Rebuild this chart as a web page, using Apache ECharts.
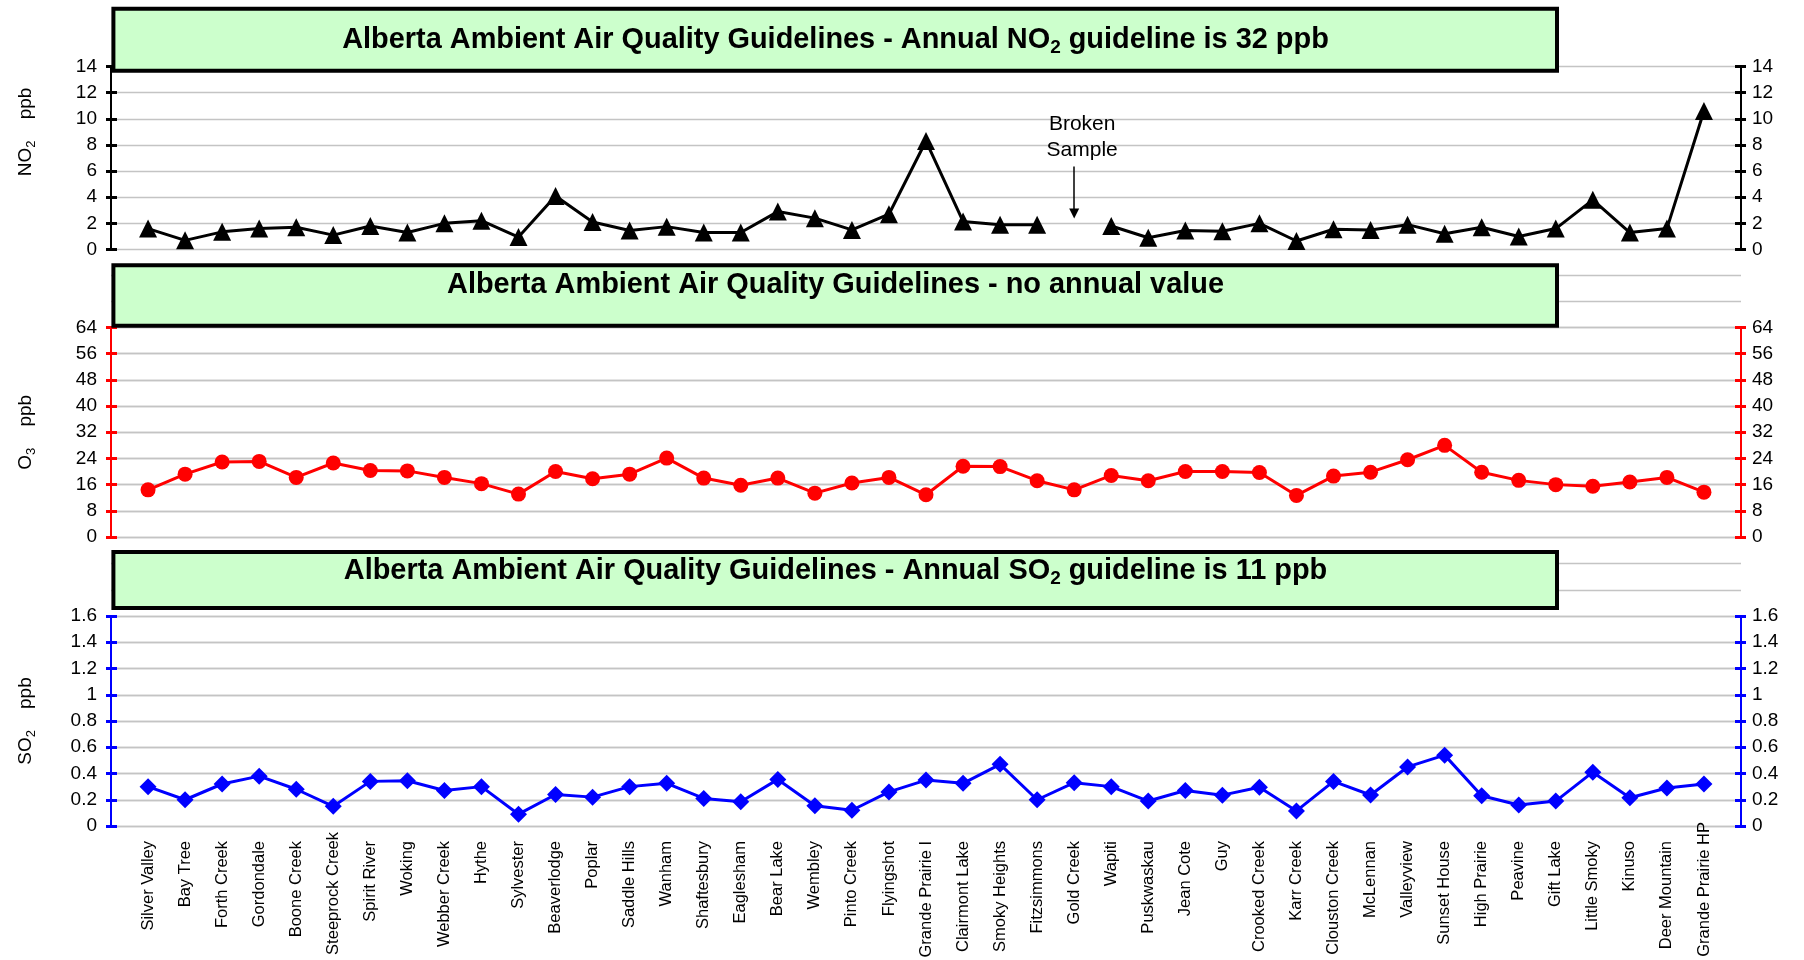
<!DOCTYPE html>
<html><head><meta charset="utf-8">
<script src="https://cdn.jsdelivr.net/npm/echarts@6/dist/echarts.min.js"></script>
<style>html,body{margin:0;padding:0;background:#fff}#c{width:1804px;height:960px}</style>
</head><body><div id="c"></div>
<script>
// ---------- DATA ----------
const categories = ['Silver Valley','Bay Tree','Forth Creek','Gordondale','Boone Creek','Steeprock Creek','Spirit River','Woking','Webber Creek','Hythe','Sylvester','Beaverlodge','Poplar','Saddle Hills','Wanham','Shaftesbury','Eaglesham','Bear Lake','Wembley','Pinto Creek','Flyingshot','Grande Prairie I','Clairmont Lake','Smoky Heights','Fitzsimmons','Gold Creek','Wapiti','Puskwaskau','Jean Cote','Guy','Crooked Creek','Karr Creek','Clouston Creek','McLennan','Valleyview','Sunset House','High Prairie','Peavine','Gift Lake','Little Smoky','Kinuso','Deer Mountain','Grande Prairie HP'];
const no2Values = [1.6,0.7,1.35,1.6,1.7,1.1,1.8,1.3,2.0,2.2,0.95,4.1,2.1,1.45,1.75,1.3,1.3,2.9,2.4,1.5,2.7,8.3,2.15,1.9,1.9,null,1.8,0.9,1.45,1.4,2.0,0.65,1.55,1.5,1.9,1.2,1.7,1.0,1.6,3.8,1.3,1.6,10.6];
const o3Values = [14.4,19.2,22.9,23.1,18.2,22.6,20.3,20.2,18.2,16.3,13.1,20.0,17.8,19.2,24.1,18.0,15.8,18.0,13.4,16.5,18.2,12.9,21.6,21.5,17.2,14.4,18.8,17.2,20.0,20.0,19.7,12.7,18.6,19.8,23.6,28.0,19.8,17.3,16.0,15.5,16.8,18.2,13.7];
const so2Values = [0.30,0.20,0.32,0.38,0.28,0.15,0.34,0.345,0.27,0.30,0.09,0.24,0.22,0.30,0.325,0.21,0.185,0.355,0.155,0.12,0.26,0.35,0.325,0.47,0.20,0.33,0.30,0.19,0.27,0.235,0.295,0.115,0.34,0.236,0.45,0.54,0.23,0.16,0.19,0.41,0.215,0.29,0.32];
const no2Ticks = [0,2,4,6,8,10,12,14];
const o3Ticks = [0,8,16,24,32,40,48,56,64];
const so2Ticks = [0,0.2,0.4,0.6,0.8,1,1.2,1.4,1.6];
const no2AxisExtentMax = 18;   // full axis span (name centred on it)
const o3GridExtentMax = 80;    // gridlines continue behind the title box
const so2GridExtentMax = 2.0;
const brokenSampleLabel = 'Broken\nSample';
const brokenSampleCategory = 'Gold Creek';
const brokenSampleArrow = [6.35, 2.75];
const titles = [
  '{b|Alberta Ambient Air Quality Guidelines - Annual NO}{s|2}{b| guideline is 32 ppb}',
  '{b|Alberta Ambient Air Quality Guidelines - no annual value}',
  '{b|Alberta Ambient Air Quality Guidelines - Annual SO}{s|2}{b| guideline is 11 ppb}'
];
const axisNames = ['{n|NO}{s|2}{n|    ppb}', '{n|O}{s|3}{n|    ppb}', '{n|SO}{s|2}{n|    ppb}'];

// ---------- STYLE / LAYOUT ----------
const FONT = '"Liberation Sans", Arial, Helvetica, sans-serif';
const GRID_LEFT = 111, GRID_RIGHT = 63;
const GRID_COLOR = '#c4c4c4';
const labelLift = {'Steeprock Creek': 9, 'Grande Prairie HP': 19};

const xData = [''].concat(categories, ['']);
const pad = arr => [null].concat(arr, [null]);
const xLabels = xData.map(n => labelLift[n] ? {value: n, textStyle: {padding: [0, -labelLift[n], 0, 0]}} : n);

const panels = [
  {ticks: no2Ticks, extMax: no2AxisExtentMax, extGrid: false, nameOnExt: true, top: 66.5, height: 183, color: '#000000', symbol: 'triangle', symbolSize: 18, data: no2Values, box: {y: 8.7, h: 62}, titleY: 40.5},
  {ticks: o3Ticks, extMax: o3GridExtentMax, extGrid: true, top: 327.5, height: 209.5, color: '#FF0000', symbol: 'circle', symbolSize: 15, data: o3Values, box: {y: 265.3, h: 60.4}, titleY: 285.2},
  {ticks: so2Ticks, extMax: so2GridExtentMax, extGrid: true, top: 616, height: 210, color: '#0000FF', symbol: 'diamond', symbolSize: 17, data: so2Values, showX: true, box: {y: 552, h: 56}, titleY: 571.2}
];

const grids = [], xAxes = [], yAxes = [], series = [], graphics = [];
const nameStyle = {
  color: '#000', fontFamily: FONT,
  rich: {
    n: {fontSize: 19, fontFamily: FONT, color: '#000', lineHeight: 24},
    s: {fontSize: 13, fontFamily: FONT, color: '#000', lineHeight: 12, verticalAlign: 'bottom'}
  }
};

panels.forEach((p, pi) => {
  const min = p.ticks[0], max = p.ticks[p.ticks.length - 1];
  const step = +(p.ticks[1] - p.ticks[0]).toFixed(6);
  const bottom = p.top + p.height;
  const gi = grids.length;
  grids.push({left: GRID_LEFT, right: GRID_RIGHT, top: p.top, height: p.height, containLabel: false, outerBoundsMode: 'none'});
  xAxes.push({
    type: 'category', gridIndex: gi, data: xLabels, boundaryGap: false,
    axisLine: {show: false}, axisTick: {show: false}, splitLine: {show: false},
    axisLabel: p.showX ? {show: true, interval: 0, rotate: 90, fontSize: 16.5, fontFamily: FONT, color: '#000', margin: 15} : {show: false}
  });
  const base = {type: 'value', gridIndex: gi, min: min, max: max, interval: step};
  const yi = yAxes.length;
  yAxes.push(Object.assign({}, base, {
    position: 'left',
    axisLine: {show: true, lineStyle: {color: p.color, width: 2}},
    axisTick: {show: true, inside: false, length: 5, lineStyle: {color: p.color, width: 3}},
    axisLabel: {show: true, color: '#000', fontSize: 19, fontFamily: FONT, margin: 14},
    splitLine: {show: true, lineStyle: {color: GRID_COLOR, width: 1.3}},
    name: p.nameOnExt ? '' : axisNames[pi], nameLocation: 'middle', nameRotate: 90, nameGap: 73,
    nameTextStyle: nameStyle
  }));
  yAxes.push(Object.assign({}, base, {
    position: 'right',
    axisLine: {show: true, lineStyle: {color: p.color, width: 2}},
    axisTick: {show: true, inside: false, length: 5, lineStyle: {color: p.color, width: 3}},
    axisLabel: {show: true, color: '#000', fontSize: 19, fontFamily: FONT, margin: 11},
    splitLine: {show: false}
  }));
  ['left', 'right'].forEach(pos => yAxes.push(Object.assign({}, base, {
    position: pos, axisLine: {show: false},
    axisTick: {show: true, inside: true, length: 6, lineStyle: {color: p.color, width: 3}},
    axisLabel: {show: false}, splitLine: {show: false}
  })));
  series.push({
    type: 'line', xAxisIndex: gi, yAxisIndex: yi, data: pad(p.data),
    symbol: p.symbol, symbolSize: p.symbolSize, showSymbol: true, connectNulls: false,
    itemStyle: {color: p.color}, lineStyle: {color: p.color, width: 3},
    animation: false, silent: true, clip: false, z: 5,
    markLine: pi === 0 ? {
      silent: true, animation: false, symbol: ['none', 'triangle'], symbolSize: 10,
      itemStyle: {color: '#000'},
      lineStyle: {color: '#000', width: 1.5, type: 'solid'},
      label: {show: true, position: 'start', formatter: brokenSampleLabel, fontSize: 21, lineHeight: 26, color: '#000', fontFamily: FONT, distance: 3, offset: [8, 0]},
      emphasis: {disabled: true},
      data: [[{coord: [brokenSampleCategory, brokenSampleArrow[0]]}, {coord: [brokenSampleCategory, brokenSampleArrow[1]]}]]
    } : undefined
  });
  const extH = p.height * (p.extMax - min) / (max - min);
  const ge = grids.length;
  grids.push({left: GRID_LEFT, right: GRID_RIGHT, top: bottom - extH, height: extH, containLabel: false, outerBoundsMode: 'none'});
  xAxes.push({type: 'category', gridIndex: ge, data: xLabels, boundaryGap: false, show: true,
    axisLine: {show: false}, axisTick: {show: false}, axisLabel: {show: false}, splitLine: {show: false}});
  yAxes.push({
    type: 'value', gridIndex: ge, min: min, max: p.extMax, interval: step, position: 'left',
    axisLine: {show: false}, axisTick: {show: false}, axisLabel: {show: false},
    splitLine: {show: p.extGrid, lineStyle: {color: GRID_COLOR, width: 1.3}},
    name: p.nameOnExt ? axisNames[pi] : '', nameLocation: 'middle', nameRotate: 90, nameGap: 73,
    nameTextStyle: nameStyle, z: 0
  });
  graphics.push({type: 'rect', z: 100, silent: true,
    shape: {x: 113.4, y: p.box.y, width: 1443.6, height: p.box.h},
    style: {fill: '#CCFFCC', stroke: '#000', lineWidth: 4}});
  graphics.push({type: 'text', z: 101, silent: true, x: 835.5, y: p.titleY,
    style: {text: titles[pi], align: 'center', verticalAlign: 'middle',
      rich: {
        b: {fontSize: 28.9, fontWeight: 'bold', fontFamily: FONT, fill: '#000', color: '#000', lineHeight: 34},
        s: {fontSize: 19, fontWeight: 'bold', fontFamily: FONT, fill: '#000', color: '#000', lineHeight: 16, verticalAlign: 'bottom'}
      }}});
});

const chart = echarts.init(document.getElementById('c'), null, {renderer: 'canvas'});
chart.setOption({
  animation: false,
  backgroundColor: '#ffffff',
  textStyle: {fontFamily: FONT},
  grid: grids, xAxis: xAxes, yAxis: yAxes, series: series,
  graphic: {elements: graphics}
});
</script></body></html>
